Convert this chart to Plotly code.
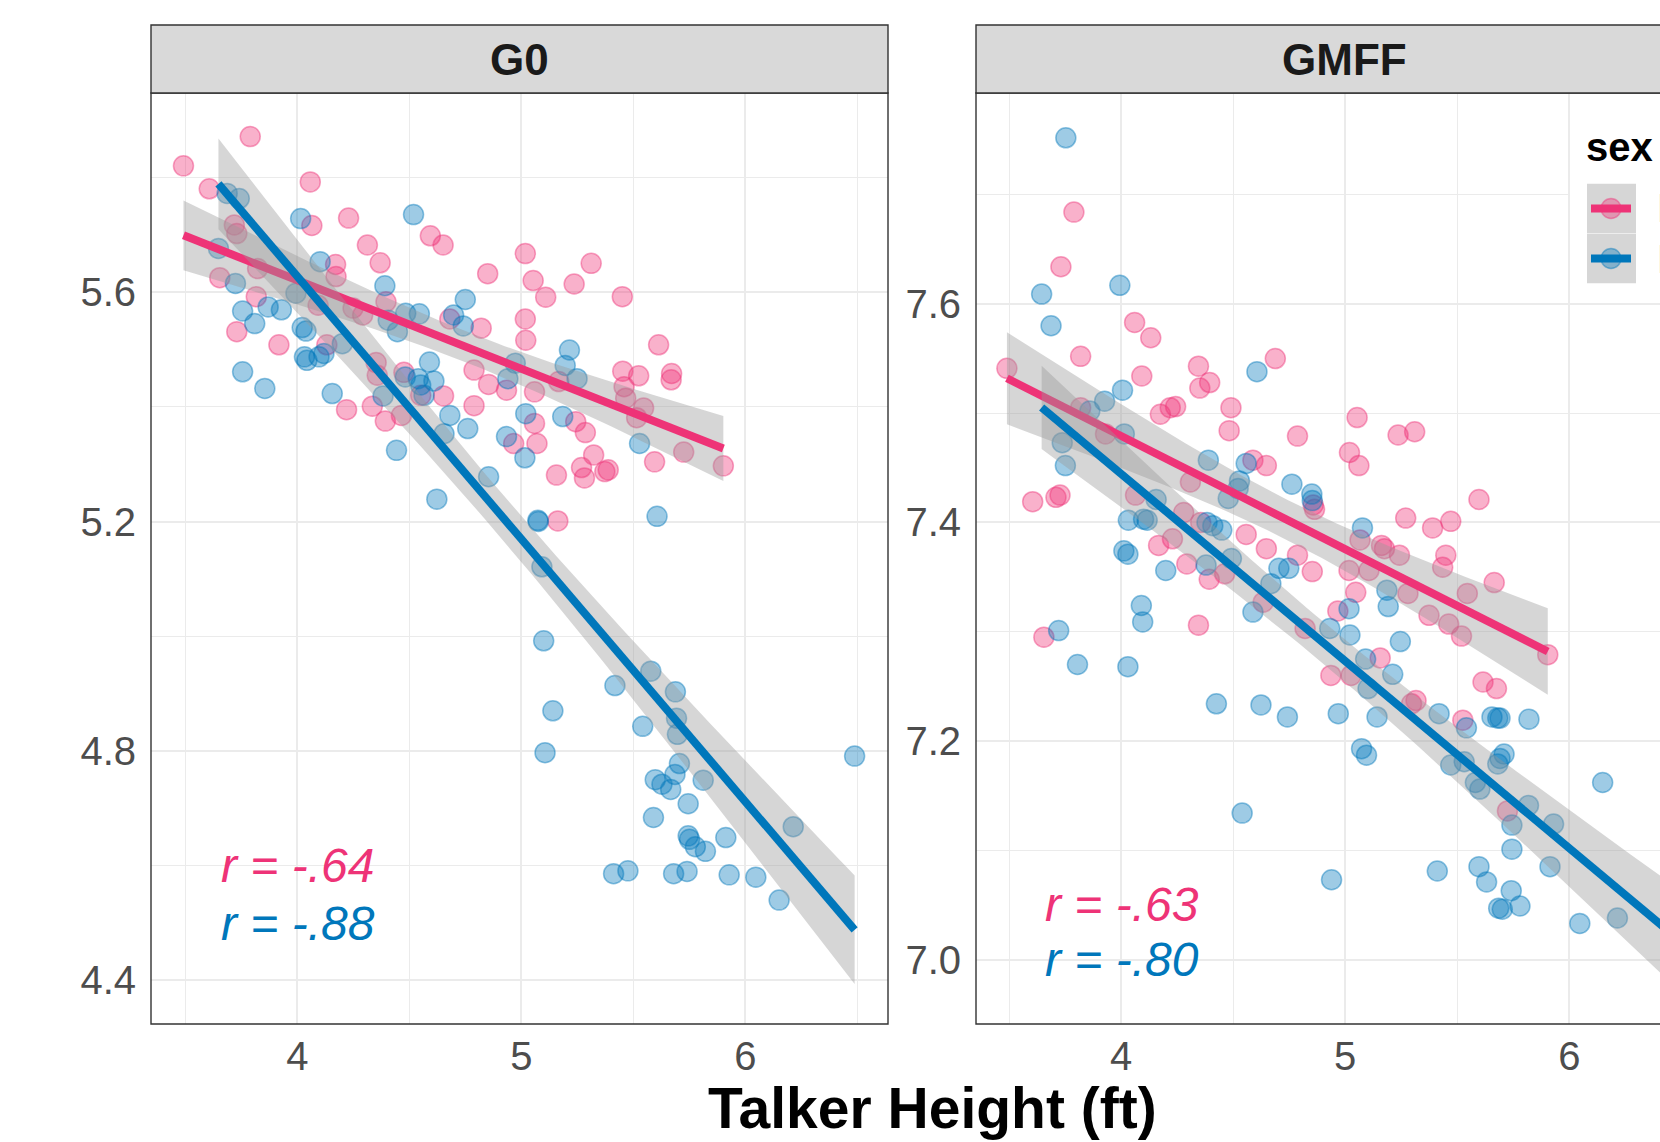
import numpy as np
import plotly.graph_objects as go

# ---------------- data ----------------
panels = ["G0", "GMFF"]
sexes = ["F", "M"]
r_labels = {"G0": ["r = -.64", "r = -.88"], "GMFF": ["r = -.63", "r = -.80"]}

g0_f_x = [3.492, 3.790, 3.607, 4.058, 4.229, 4.065, 4.313, 4.370, 4.594, 4.651, 4.850, 5.018, 5.053, 5.109, 5.236,
          5.312, 5.451, 5.018, 5.020, 4.821, 4.681, 5.613, 5.671, 5.669, 5.453, 5.524, 5.459, 5.466, 5.546, 5.515,
          5.595, 5.725, 5.902, 5.157, 5.269, 5.282, 5.323, 5.373, 5.388, 5.243, 5.286, 5.059, 5.070, 4.966, 4.789,
          4.789, 4.854, 4.934, 5.059, 5.167, 4.653, 4.551, 4.476, 4.352, 4.357, 4.335, 4.393, 4.465, 4.220, 4.132,
          4.173, 4.171, 3.823, 3.817, 3.654, 3.730, 3.918, 3.719, 3.730, 4.093, 4.249, 4.292, 4.396, 5.163]
g0_f_y = [5.820, 5.871, 5.780, 5.792, 5.729, 5.716, 5.682, 5.651, 5.698, 5.682, 5.632, 5.667, 5.620, 5.591, 5.614,
          5.650, 5.592, 5.553, 5.516, 5.537, 5.553, 5.508, 5.458, 5.447, 5.462, 5.454, 5.435, 5.415, 5.398, 5.381,
          5.304, 5.321, 5.297, 5.281, 5.294, 5.276, 5.316, 5.287, 5.290, 5.374, 5.355, 5.371, 5.336, 5.336, 5.402,
          5.464, 5.439, 5.429, 5.426, 5.444, 5.419, 5.420, 5.460, 5.477, 5.455, 5.401, 5.375, 5.385, 5.395, 5.508,
          5.627, 5.648, 5.641, 5.592, 5.625, 5.531, 5.508, 5.717, 5.702, 5.577, 5.572, 5.560, 5.583, 5.201]

g0_m_x = [3.687, 3.741, 4.015, 4.519, 3.648, 3.724, 4.102, 4.391, 3.756, 3.810, 3.870, 3.929, 3.994, 4.022, 4.039,
          4.032, 4.043, 4.097, 4.119, 4.201, 3.756, 3.855, 4.156, 4.406, 4.447, 4.484, 4.545, 4.698, 4.750, 4.741,
          4.590, 4.482, 4.540, 4.551, 4.610, 4.566, 4.383, 4.681, 4.761, 4.655, 4.443, 4.934, 5.016, 4.940, 4.973,
          5.215, 5.196, 5.249, 5.185, 5.020, 5.528, 4.854, 4.623, 5.074, 5.076, 5.606, 5.092,
          5.100, 5.141, 5.106, 5.418, 5.578, 5.688, 5.693, 5.542, 5.697, 5.706, 5.686, 5.598, 5.628, 5.667,
          5.812, 5.745, 5.590, 5.745, 5.751, 5.777, 5.822, 5.913, 6.214, 5.412, 5.476, 5.680, 5.740, 5.928,
          6.047, 6.151, 6.488]
g0_m_y = [5.772, 5.763, 5.728, 5.735, 5.676, 5.615, 5.653, 5.611, 5.567, 5.545, 5.574, 5.569, 5.598, 5.538, 5.532,
          5.487, 5.481, 5.487, 5.493, 5.510, 5.461, 5.432, 5.423, 5.551, 5.531, 5.563, 5.562, 5.560, 5.587, 5.541,
          5.478, 5.452, 5.449, 5.438, 5.445, 5.420, 5.419, 5.385, 5.362, 5.353, 5.324, 5.348, 5.311, 5.449, 5.476,
          5.499, 5.472, 5.449, 5.383, 5.388, 5.336, 5.278, 5.239, 5.202, 5.200, 5.209, 5.121,
          4.992, 4.870, 4.797, 4.914, 4.939, 4.903, 4.857, 4.843, 4.829, 4.778, 4.759, 4.750, 4.742, 4.733,
          4.749, 4.708, 4.684, 4.652, 4.646, 4.633, 4.625, 4.649, 4.668, 4.586, 4.591, 4.586, 4.590, 4.584,
          4.580, 4.540, 4.791]

gmff_f_x = [3.789, 3.731, 4.060, 4.132, 3.819, 3.490, 4.345, 4.395, 4.351, 4.688, 4.092, 4.175, 4.219, 4.243, 4.490,
            4.482, 4.787, 5.053, 5.236, 5.310, 5.019, 5.061, 5.597, 3.605, 3.709, 3.727, 3.819, 3.930, 4.588, 4.648,
            4.309, 4.064, 4.857, 4.863, 5.270, 5.390, 5.471, 4.279, 4.355, 4.558, 4.648, 4.787, 4.167, 4.229, 4.293,
            4.393, 4.462, 4.853, 5.017, 5.106, 5.066, 5.162, 5.175, 5.242, 5.449, 5.435, 5.665, 5.545, 5.280, 5.047,
            5.904, 5.374, 5.462, 5.519, 5.615, 5.675, 5.316, 5.296, 5.156, 5.026, 4.936, 4.967, 4.821, 4.634, 4.345,
            3.655, 5.525, 5.724]
gmff_f_y = [7.684, 7.634, 7.583, 7.569, 7.552, 7.541, 7.543, 7.528, 7.523, 7.550, 7.534, 7.499, 7.505, 7.506, 7.505,
            7.484, 7.479, 7.496, 7.480, 7.483, 7.464, 7.452, 7.421, 7.419, 7.423, 7.425, 7.505, 7.481, 7.457, 7.452,
            7.437, 7.425, 7.416, 7.412, 7.404, 7.395, 7.401, 7.409, 7.400, 7.389, 7.376, 7.370, 7.379, 7.385, 7.362,
            7.348, 7.353, 7.355, 7.356, 7.356, 7.384, 7.379, 7.376, 7.370, 7.370, 7.359, 7.345, 7.335, 7.335, 7.336,
            7.279, 7.315, 7.307, 7.296, 7.254, 7.248, 7.237, 7.234, 7.276, 7.260, 7.260, 7.319, 7.303, 7.327, 7.306,
            7.295, 7.219, 7.136]

gmff_m_x = [3.753, 3.645, 3.687, 3.994, 4.006, 3.926, 3.860, 4.014, 3.737, 3.751, 4.606, 4.389, 4.558, 4.528, 4.522,
            4.478, 4.762, 4.851, 4.853, 4.156, 4.032, 4.100, 4.116, 4.383, 4.409, 4.449, 4.012, 4.030, 4.199, 4.379,
            4.492, 4.704, 4.748, 4.668, 5.077, 5.186,
            4.090, 4.096, 3.721, 3.805, 4.030, 4.588, 4.931, 5.021, 5.017, 5.192, 5.246, 5.091, 5.102, 5.212, 4.425,
            4.624, 4.742, 4.969, 5.142, 5.419, 5.541, 5.655, 5.681, 5.691, 5.820, 5.073, 5.095, 5.471, 5.531, 5.709,
            5.691, 5.681, 5.581, 5.601, 6.149, 5.818, 5.930, 5.744, 5.744, 5.914, 4.540, 4.939, 5.411, 5.597, 5.631,
            5.741, 5.780, 5.685, 5.701, 6.047, 6.215, 6.488]
gmff_m_y = [7.752, 7.609, 7.580, 7.617, 7.521, 7.511, 7.502, 7.481, 7.473, 7.452, 7.538, 7.457, 7.454, 7.438, 7.431,
            7.422, 7.435, 7.426, 7.420, 7.421, 7.402, 7.403, 7.402, 7.400, 7.397, 7.393, 7.374, 7.371, 7.356, 7.361,
            7.367, 7.358, 7.358, 7.344, 7.395, 7.338,
            7.324, 7.309, 7.301, 7.270, 7.268, 7.318, 7.303, 7.297, 7.321, 7.323, 7.291, 7.275, 7.248, 7.261, 7.234,
            7.233, 7.222, 7.225, 7.222, 7.225, 7.212, 7.222, 7.221, 7.221, 7.220, 7.193, 7.187, 7.178, 7.181, 7.188,
            7.184, 7.179, 7.162, 7.156, 7.162, 7.141, 7.124, 7.123, 7.101, 7.085, 7.134, 7.073, 7.081, 7.085, 7.071,
            7.063, 7.049, 7.047, 7.046, 7.033, 7.038, 7.090]

x_ticks = [4, 5, 6]
y_ticks = {"G0": [4.4, 4.8, 5.2, 5.6], "GMFF": [7.0, 7.2, 7.4, 7.6]}

data = {
    ("G0", "F"): (g0_f_x, g0_f_y),
    ("G0", "M"): (g0_m_x, g0_m_y),
    ("GMFF", "F"): (gmff_f_x, gmff_f_y),
    ("GMFF", "M"): (gmff_m_x, gmff_m_y),
}

# ---------------- style ----------------
W, H = 1660, 1142
FONT = "Liberation Sans, Arial, Helvetica, sans-serif"
COL = {"F": (238, 51, 119), "M": (0, 119, 187)}
HEX = {"F": "#EE3377", "M": "#0077BB"}


def rgba(c, a):
    return f"rgba({c[0]},{c[1]},{c[2]},{a})"


def px_x(p):
    return p / W


def px_y(p):
    return 1 - p / H


def t975(dof):
    z = 1.959964
    return z + (z ** 3 + z) / (4 * dof) + (5 * z ** 5 + 16 * z ** 3 + 3 * z) / (96 * dof ** 2)


def smooth(x, y, n=80):
    x = np.asarray(x, float)
    y = np.asarray(y, float)
    b, a = np.polyfit(x, y, 1)
    xs = np.linspace(x.min(), x.max(), n)
    yh = a + b * xs
    res = y - (a + b * x)
    dof = len(x) - 2
    s = np.sqrt(np.sum(res ** 2) / dof)
    sxx = np.sum((x - x.mean()) ** 2)
    se = s * np.sqrt(1 / len(x) + (xs - x.mean()) ** 2 / sxx)
    t = t975(dof)
    return xs, yh, yh - t * se, yh + t * se


fig = go.Figure()
axes = {"G0": ("x", "y"), "GMFF": ("x2", "y2")}

for p in panels:
    xa, ya = axes[p]
    for s in sexes:
        x, y = data[(p, s)]
        fig.add_trace(go.Scatter(
            x=x, y=y, mode="markers", xaxis=xa, yaxis=ya, showlegend=False, hoverinfo="skip",
            marker=dict(size=20, color=rgba(COL[s], 0.38), line=dict(color=rgba(COL[s], 0.45), width=1.5)),
        ))
    for s in sexes:
        x, y = data[(p, s)]
        xs, yh, lo, hi = smooth(x, y)
        fig.add_trace(go.Scatter(
            x=list(xs) + list(xs[::-1]), y=list(hi) + list(lo[::-1]), mode="lines", fill="toself",
            fillcolor="rgba(153,153,153,0.4)", line=dict(width=0), xaxis=xa, yaxis=ya,
            showlegend=False, hoverinfo="skip",
        ))
        fig.add_trace(go.Scatter(
            x=xs, y=yh, mode="lines", line=dict(color=HEX[s], width=8), xaxis=xa, yaxis=ya,
            showlegend=False, hoverinfo="skip",
        ))

# ---------------- axes ----------------
y_dom = [px_y(1024), px_y(93)]
grid_major = dict(showgrid=True, gridcolor="#EBEBEB", gridwidth=2.4)
minor_x = dict(dtick=0.5, tick0=0, showgrid=True, gridcolor="#EBEBEB", gridwidth=1.2, ticks="")
tickfont = dict(family=FONT, size=40, color="#4D4D4D")

common_x = dict(tickvals=x_ticks, ticktext=[str(v) for v in x_ticks], zeroline=False, showline=False,
                ticks="", tickfont=tickfont, ticklabelstandoff=5, minor=minor_x, **grid_major)
fig.update_layout(
    xaxis=dict(domain=[px_x(151), px_x(888)], range=[3.347, 6.637], anchor="y", **common_x),
    xaxis2=dict(domain=[px_x(976), 1.0], range=[3.352, 6.405], anchor="y2", **common_x),
    yaxis=dict(domain=y_dom, range=[4.324, 5.947], anchor="x", tickvals=y_ticks["G0"],
               ticktext=[f"{v:.1f}" for v in y_ticks["G0"]], zeroline=False, showline=False, ticks="",
               tickfont=tickfont, ticklabelstandoff=14,
               minor=dict(dtick=0.2, tick0=4.4, showgrid=True, gridcolor="#EBEBEB", gridwidth=1.2, ticks=""),
               **grid_major),
    yaxis2=dict(domain=y_dom, range=[6.941, 7.793], anchor="x2", tickvals=y_ticks["GMFF"],
                ticktext=[f"{v:.1f}" for v in y_ticks["GMFF"]], zeroline=False, showline=False, ticks="",
                tickfont=tickfont, ticklabelstandoff=14,
                minor=dict(dtick=0.1, tick0=7.0, showgrid=True, gridcolor="#EBEBEB", gridwidth=1.2, ticks=""),
                **grid_major),
)

# ---------------- panel borders & strips ----------------
shapes = []
BORDER = "#333333"
shapes.append(dict(type="rect", xref="paper", yref="paper", x0=px_x(151), x1=px_x(888), y0=px_y(1024),
                   y1=px_y(93), line=dict(color=BORDER, width=1.4), fillcolor="rgba(0,0,0,0)", layer="above"))
shapes.append(dict(type="rect", xref="paper", yref="paper", x0=px_x(976), x1=px_x(1713), y0=px_y(1024),
                   y1=px_y(93), line=dict(color=BORDER, width=1.4), fillcolor="rgba(0,0,0,0)", layer="above"))
for x0, x1 in [(151, 888), (976, 1713)]:
    shapes.append(dict(type="rect", xref="paper", yref="paper", x0=px_x(x0), x1=px_x(x1), y0=px_y(93),
                       y1=px_y(25), line=dict(color=BORDER, width=1.4), fillcolor="#D9D9D9", layer="above"))

# ---------------- legend (inside right panel, cut by the picture edge) ----------------
shapes.append(dict(type="rect", xref="paper", yref="paper", x0=px_x(1570), x1=px_x(1720), y0=px_y(300),
                   y1=px_y(110), line=dict(width=0), fillcolor="white", layer="above"))
key_rows = {"F": 208.5, "M": 258.5}
for s in sexes:
    cy = key_rows[s]
    shapes.append(dict(type="rect", xref="paper", yref="paper", x0=px_x(1587), x1=px_x(1636),
                       y0=px_y(cy + 24.7), y1=px_y(cy - 24.7), line=dict(width=0),
                       fillcolor="#D6D6D6", layer="above"))
    shapes.append(dict(type="circle", xref="paper", yref="paper", x0=px_x(1601), x1=px_x(1621),
                       y0=px_y(cy + 10), y1=px_y(cy - 10), line=dict(color=rgba(COL[s], 0.45), width=1.5),
                       fillcolor=rgba(COL[s], 0.38), layer="above"))
    shapes.append(dict(type="line", xref="paper", yref="paper", x0=px_x(1591), x1=px_x(1631),
                       y0=px_y(cy), y1=px_y(cy), line=dict(color=HEX[s], width=8), layer="above"))

annotations = []
annotations.append(dict(text="<b>sex</b>", xref="paper", yref="paper", x=px_x(1584), y=px_y(147),
                        xanchor="left", yanchor="middle", showarrow=False,
                        font=dict(family=FONT, size=40, color="#000000")))
for s in sexes:
    annotations.append(dict(text=s, xref="paper", yref="paper", x=px_x(1655), y=px_y(key_rows[s]),
                            xanchor="left", yanchor="middle", showarrow=False,
                            font=dict(family=FONT, size=40, color="#000000")))

for p, (x0, x1) in zip(panels, [(151, 888), (976, 1713)]):
    annotations.append(dict(text=f"<b>{p}</b>", xref="paper", yref="paper", x=px_x((x0 + x1) / 2), y=px_y(59),
                            xanchor="center", yanchor="middle", showarrow=False,
                            font=dict(family=FONT, size=44, color="#1A1A1A")))

r_pos = {"G0": [4.6, 4.5], "GMFF": [7.05, 7.0]}
for p in panels:
    xa, ya = axes[p]
    for s, lab, yv in zip(sexes, r_labels[p], r_pos[p]):
        annotations.append(dict(text=f"<i>{lab}</i>", xref=xa, yref=ya, x=3.65, y=yv, xanchor="left",
                                yanchor="middle", showarrow=False,
                                font=dict(family=FONT, size=48, color=HEX[s])))

annotations.append(dict(text="<b>Talker Height (ft)</b>", xref="paper", yref="paper", x=px_x(932), y=px_y(1108),
                        xanchor="center", yanchor="middle", showarrow=False,
                        font=dict(family=FONT, size=57, color="#000000")))

fig.update_layout(
    width=W, height=H, margin=dict(l=0, r=0, t=0, b=0),
    paper_bgcolor="white", plot_bgcolor="white", showlegend=False,
    shapes=shapes, annotations=annotations,
)

fig.write_html("out.html")
